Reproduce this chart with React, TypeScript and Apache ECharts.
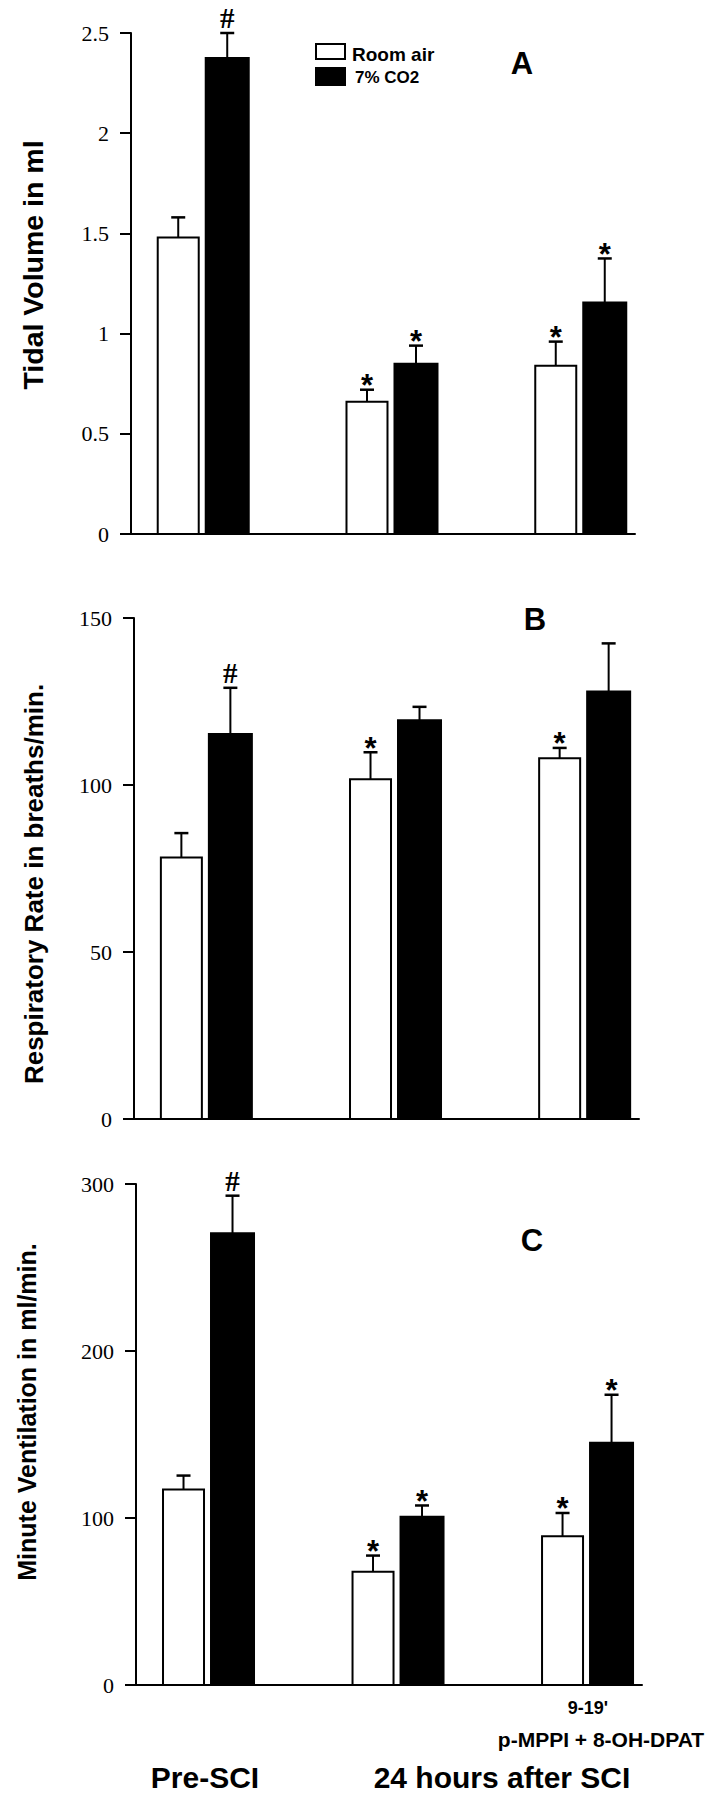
import React, { useEffect, useRef } from "react";
import * as echarts from "echarts";

// ---- data ----
const groups = ["Pre-SCI", "24 hours after SCI", "9-19' p-MPPI + 8-OH-DPAT"];
const groupPos = [0, 1, 2];
const seriesNames = ["Room air", "7% CO2"];

const tidalRoom = [1.48, 0.66, 0.84];
const tidalRoomErr = [0.1, 0.06, 0.12];
const tidalRoomMark = ["", "*", "*"];
const tidalCo2 = [2.375, 0.85, 1.155];
const tidalCo2Err = [0.125, 0.09, 0.22];
const tidalCo2Mark = ["#", "*", "*"];

const rateRoom = [78.3, 101.7, 108];
const rateRoomErr = [7.3, 8.1, 3.1];
const rateRoomMark = ["", "*", "*"];
const rateCo2 = [115.3, 119.4, 128];
const rateCo2Err = [13.8, 4.0, 14.4];
const rateCo2Mark = ["#", "", ""];

const ventRoom = [117, 67.8, 89];
const ventRoomErr = [8.4, 9.7, 14];
const ventRoomMark = ["", "*", "*"];
const ventCo2 = [270.5, 100.8, 145.1];
const ventCo2Err = [22.5, 6.7, 28.7];
const ventCo2Mark = ["#", "*", "*"];

const yTitles = ["Tidal Volume in ml", "Respiratory Rate in breaths/min.", "Minute Ventilation in ml/min."];
const panelLetters = ["A", "B", "C"];
const yMax = [2.5, 150, 300];
const yInterval = [0.5, 50, 100];

const SANS = "'Liberation Sans', Arial, Helvetica, sans-serif";
const SERIF = "'Liberation Serif', 'Times New Roman', serif";

function makeRender(offset: number, filled: boolean, marks: string[]) {
  return (params: any, api: any) => {
    const x = api.value(0);
    const v = api.value(1);
    const e = api.value(2);
    const base = api.coord([x, 0]);
    const top = api.coord([x, v]);
    const et = api.coord([x, v + e]);
    const cx = base[0] + offset;
    const w = filled ? 43 : 41;
    const children: any[] = [
      {
        type: "rect",
        shape: { x: cx - w / 2, y: top[1], width: w, height: base[1] - top[1] },
        style: { fill: filled ? "#000" : "#fff", stroke: "#000", lineWidth: 2 },
      },
      {
        type: "line",
        shape: { x1: cx, y1: top[1], x2: cx, y2: et[1] },
        style: { stroke: "#000", lineWidth: 2 },
      },
      {
        type: "line",
        shape: { x1: cx - 7, y1: et[1], x2: cx + 7, y2: et[1] },
        style: { stroke: "#000", lineWidth: 2.5 },
      },
    ];
    const m = marks[params.dataIndex];
    if (m) {
      const isHash = m === "#";
      children.push({
        type: "text",
        style: {
          text: m,
          x: cx,
          y: et[1] - (isHash ? 15 : 4),
          align: "center",
          verticalAlign: "middle",
          fontSize: isHash ? 29 : 31,
          fontFamily: isHash ? SERIF : SANS,
          fontWeight: "bold",
          fill: "#000",
        },
      });
    }
    return { type: "group", children };
  };
}

export default function App() {
  const ref = useRef<HTMLDivElement>(null);
  useEffect(() => {
    if (!ref.current) return;
    const chart = echarts.init(ref.current, undefined, { renderer: "svg" });

    const grids = [
      { left: 131, top: 33, width: 504, height: 501 },
      { left: 134, top: 618, width: 505, height: 501 },
      { left: 136, top: 1184, width: 506, height: 501 },
    ];
    const panels = [
      { room: tidalRoom, roomErr: tidalRoomErr, roomMark: tidalRoomMark, co2: tidalCo2, co2Err: tidalCo2Err, co2Mark: tidalCo2Mark },
      { room: rateRoom, roomErr: rateRoomErr, roomMark: rateRoomMark, co2: rateCo2, co2Err: rateCo2Err, co2Mark: rateCo2Mark },
      { room: ventRoom, roomErr: ventRoomErr, roomMark: ventRoomMark, co2: ventCo2, co2Err: ventCo2Err, co2Mark: ventCo2Mark },
    ];

    const xAxis = grids.map((_, i) => ({
      type: "value",
      gridIndex: i,
      min: -0.38,
      max: 2.29,
      axisLine: { show: true, onZero: false, lineStyle: { color: "#000", width: 2 } },
      axisTick: { show: false },
      axisLabel: { show: false },
      splitLine: { show: false },
    }));
    const yAxis = grids.map((_, i) => ({
      type: "value",
      gridIndex: i,
      min: 0,
      max: yMax[i],
      interval: yInterval[i],
      axisLine: { show: true, onZero: false, lineStyle: { color: "#000", width: 2 } },
      axisTick: { show: true, length: 11, lineStyle: { color: "#000", width: 2 } },
      axisLabel: { color: "#000", fontFamily: SERIF, fontSize: 22, margin: 22 },
      splitLine: { show: false },
    }));

    const series: any[] = [];
    panels.forEach((p, i) => {
      series.push({
        type: "custom",
        name: seriesNames[0],
        xAxisIndex: i,
        yAxisIndex: i,
        encode: { x: 0, y: 1 },
        renderItem: makeRender(-24.5, false, p.roomMark),
        itemStyle: { color: "#fff", borderColor: "#000" },
        data: groupPos.map((g, k) => [g, p.room[k], p.roomErr[k]]),
      });
      series.push({
        type: "custom",
        name: seriesNames[1],
        xAxisIndex: i,
        yAxisIndex: i,
        encode: { x: 0, y: 1 },
        renderItem: makeRender(24.5, true, p.co2Mark),
        itemStyle: { color: "#000" },
        data: groupPos.map((g, k) => [g, p.co2[k], p.co2Err[k]]),
      });
    });

    const titlePos = [
      [33, 265],
      [34, 884],
      [27, 1412],
    ];
    const titleSize = [28.5, 26, 25];
    const letterPos = [
      [522, 63],
      [535, 619],
      [532, 1240],
    ];
    const graphic: any[] = [];
    yTitles.forEach((t, i) => {
      graphic.push({
        type: "text",
        x: titlePos[i][0],
        y: titlePos[i][1],
        rotation: Math.PI / 2,
        style: {
          text: t,
          align: "center",
          verticalAlign: "middle",
          fontFamily: SANS,
          fontWeight: "bold",
          fontSize: titleSize[i],
          fill: "#000",
        },
      });
      graphic.push({
        type: "text",
        x: letterPos[i][0],
        y: letterPos[i][1],
        style: {
          text: panelLetters[i],
          align: "center",
          verticalAlign: "middle",
          fontFamily: SANS,
          fontWeight: "bold",
          fontSize: 31,
          fill: "#000",
        },
      });
    });
    const drugParts = groups[2].split(" ");
    const bottomTexts = [
      { text: groups[0], x: 205, y: 1777, size: 30 },
      { text: groups[1], x: 502, y: 1777, size: 30 },
      { text: drugParts[0], x: 588, y: 1708, size: 18 },
      { text: drugParts.slice(1).join(" "), x: 601, y: 1739, size: 21 },
    ];
    bottomTexts.forEach((b) => {
      graphic.push({
        type: "text",
        x: b.x,
        y: b.y,
        style: {
          text: b.text,
          align: "center",
          verticalAlign: "middle",
          fontFamily: SANS,
          fontWeight: "bold",
          fontSize: b.size,
          fill: "#000",
        },
      });
    });

    // legend (drawn as graphic so its size is exact)
    graphic.push(
      { type: "rect", shape: { x: 316, y: 44, width: 29, height: 15 }, style: { fill: "#fff", stroke: "#000", lineWidth: 2 } },
      { type: "rect", shape: { x: 315, y: 67, width: 31, height: 19 }, style: { fill: "#000" } },
      {
        type: "text",
        x: 352,
        y: 54,
        style: { text: seriesNames[0], align: "left", verticalAlign: "middle", fontFamily: SANS, fontWeight: "bold", fontSize: 19, fill: "#000" },
      },
      {
        type: "text",
        x: 355,
        y: 77,
        style: { text: seriesNames[1], align: "left", verticalAlign: "middle", fontFamily: SANS, fontWeight: "bold", fontSize: 17, fill: "#000" },
      }
    );

    chart.setOption({
      animation: false,
      backgroundColor: "#fff",
      grid: grids,
      xAxis,
      yAxis,
      series,
      graphic,
    });
    return () => chart.dispose();
  }, []);
  return (
    <div
      ref={ref}
      style={{ position: "absolute", left: 0, top: 0, width: 714, height: 1800, background: "#fff" }}
    />
  );
}
